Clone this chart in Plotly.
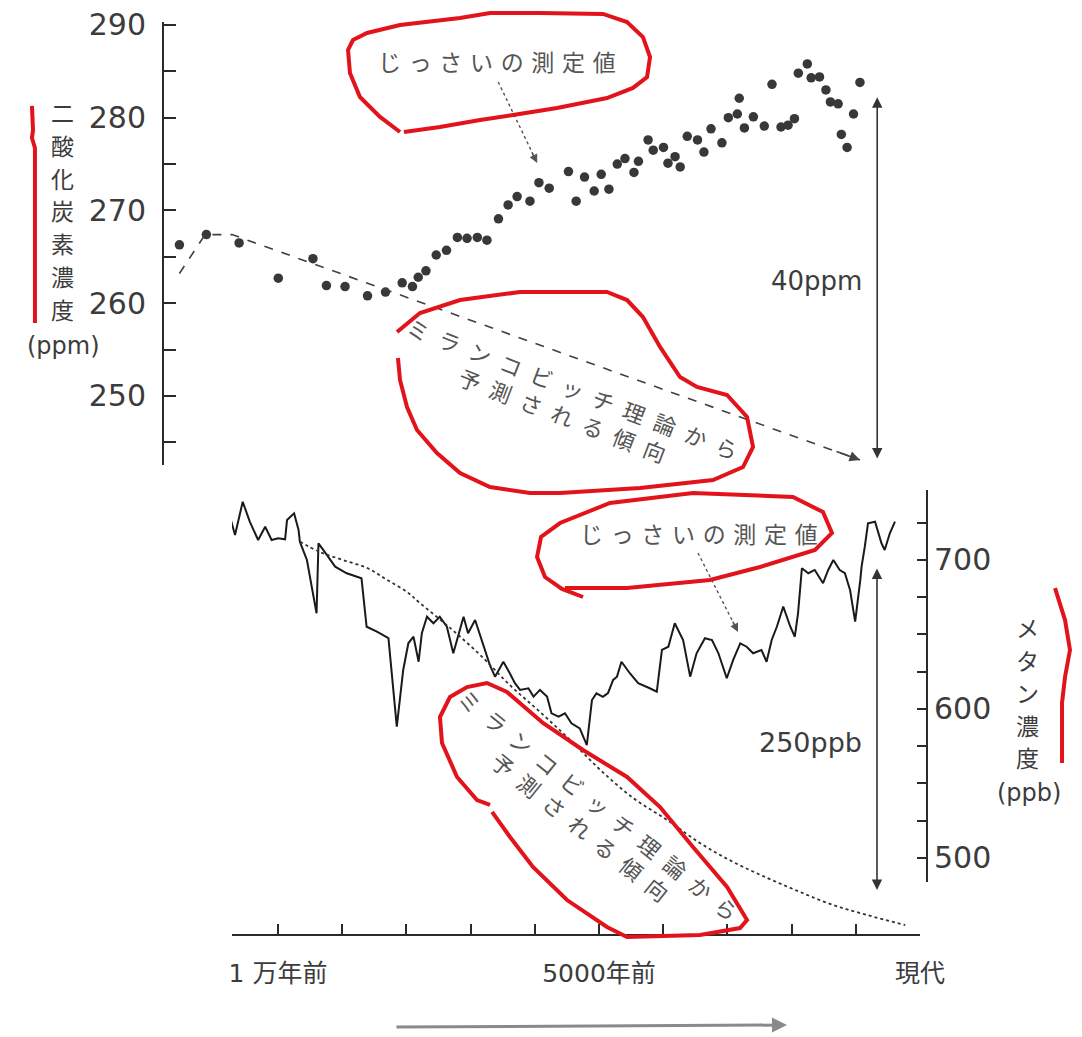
import plotly.graph_objects as go

# The page body adds an 8px margin, so the figure occupies 8..1082 x 8..1037.
OFF = 8
FW, FH = 1082 - OFF, 1037 - OFF

# ---------------- data ----------------
# CO2 measured (years relative to present, ppm)
co2_years = [-10760, -10340, -9830, -9220, -8680, -8470, -8180, -7830, -7550, -7290,
             -7130, -7040, -6920, -6760, -6600, -6430, -6280, -6120, -5970, -5790,
             -5640, -5500, -5300, -5160, -5000, -4700, -4580, -4450, -4300, -4190,
             -4070, -3940, -3820, -3680, -3610, -3460, -3380, -3220, -3150, -3040,
             -2960, -2850, -2690, -2590, -2480, -2310, -2210, -2070, -2040, -1960,
             -1820, -1650, -1530, -1390, -1280, -1180, -1120, -980, -920, -790,
             -690, -620, -500, -450, -360, -260, -160]
co2_ppm = [266.3, 267.4, 266.5, 262.7, 264.8, 261.9, 261.8, 260.8, 261.2, 262.2,
           261.8, 262.8, 263.5, 265.2, 265.7, 267.1, 267.0, 267.1, 266.8, 269.1,
           270.6, 271.5, 271.0, 273.0, 272.4, 274.2, 271.0, 273.6, 272.1, 273.9,
           272.3, 275.0, 275.6, 274.1, 275.3, 277.6, 276.5, 276.8, 275.1, 275.8,
           274.7, 278.0, 277.6, 276.3, 278.8, 277.3, 280.0, 280.4, 282.1, 278.9,
           280.1, 279.1, 283.6, 279.0, 279.2, 279.9, 284.8, 285.8, 284.3, 284.4,
           283.0, 281.7, 281.5, 278.2, 276.8, 280.4, 283.8]

# CO2 trend predicted by Milankovitch theory
trend_years = [-10760, -10360, -9940, -160]
trend_ppm = [263.2, 267.4, 267.4, 243.1]

# CH4 measured (years relative to present, ppb)
ch4_years = [-10770, -10670, -10550, -10440, -10310, -10200, -10100, -10000, -9890, -9860,
             -9750, -9680, -9660, -9550, -9400, -9370, -9240, -9110, -8930, -8770,
             -8700, -8620, -8460, -8280, -8150, -8050, -7970, -7890, -7810, -7760,
             -7680, -7580, -7480, -7370, -7270, -7110, -7040, -6930, -6800, -6700,
             -6620, -6490, -6390, -6310, -6230, -6100, -6020, -5920, -5810, -5740,
             -5630, -5530, -5430, -5300, -5190, -5110, -5040, -4940, -4860, -4780,
             -4720, -4650, -4520, -4390, -4210, -4100, -4020, -3920, -3820, -3690,
             -3580, -3480, -3350, -3240, -3140, -3010, -2910, -2800, -2700, -2600,
             -2470, -2390, -2310, -2230, -2130, -2020, -1950, -1900, -1840, -1740,
             -1640, -1510, -1430, -1350, -1250, -1170, -1090, -1010, -930, -910,
             -860, -810, -700, -600, -550, -470, -390]
ch4_ppb = [732.4, 716.8, 739.1, 725.7, 713.4, 722.3, 713.4, 714.6, 713.9, 726.8,
           731.3, 720.1, 712.3, 700.0, 664.2, 711.2, 703.4, 695.5, 691.1, 688.8,
           687.7, 655.2, 651.9, 647.5, 588.1, 626.2, 644.1, 648.5, 631.7, 650.8,
           661.9, 657.5, 661.9, 655.2, 637.4, 661.9, 650.8, 659.7, 641.8, 629.5,
           621.7, 631.7, 624.0, 617.3, 612.8, 613.9, 608.3, 612.8, 608.3, 597.1,
           594.8, 597.1, 590.4, 587.0, 575.8, 606.0, 610.5, 608.1, 610.7, 619.5,
           621.7, 631.7, 624.0, 617.3, 613.9, 611.6, 639.6, 641.8, 657.5, 646.3,
           621.7, 637.4, 647.5, 646.3, 637.4, 620.6, 632.9, 644.1, 641.8, 637.4,
           639.6, 631.7, 646.3, 655.2, 668.7, 655.2, 648.5, 664.2, 694.4, 691.1,
           693.3, 684.4, 693.3, 700.0, 693.3, 691.1, 679.9, 658.6, 686.6, 695.5,
           708.9, 724.6, 725.7, 711.2, 706.7, 717.9, 725.7]

# CH4 trend predicted by Milankovitch theory
pred_years = [-9660, -9350, -8990, -8610, -8300, -7990, -7790, -7320, -6850, -6390, -5920,
              -5450, -4980, -4470, -3940, -3430, -2910, -2380, -1870, -1360, -830, -230]
pred_ppb = [712.3, 705.4, 700.0, 694.6, 686.6, 678.5, 671.1, 654.4, 636.2, 616.1, 598.0,
            579.2, 559.1, 540.3, 525.5, 510.1, 497.3, 486.6, 477.2, 468.5, 461.8, 455.0]

x_tickvals = [-10000, -9000, -8000, -7000, -6000, -5000, -4000, -3000, -2000, -1000, 0]
x_ticktext = ['1 万年前', '', '', '', '', '5000年前', '', '', '', '', '現代']
co2_tickvals = [245, 250, 255, 260, 265, 270, 275, 280, 285, 290]
co2_ticktext = ['', '250', '', '260', '', '270', '', '280', '', '290']
ch4_tickvals = [500, 525, 550, 575, 600, 625, 650, 675, 700, 725]
ch4_ticktext = ['500', '', '', '', '600', '', '', '', '700', '']

# span arrows (data units)
co2_span = (282.2, 243.1)
ch4_span = (695.3, 478.5)

co2_title = '二酸化炭素濃度'
ch4_title = 'メタン濃度'

# ---------------- styling helpers ----------------
NUM_FONT = "DejaVu Sans, Noto Sans CJK JP, sans-serif"
JP_FONT = "Noto Sans CJK JP, DejaVu Sans, sans-serif"
TXT = '#3c3c3c'
AX = '#2a2a2a'


def px_x(px):
    return (px - OFF) / FW


def px_y(py):
    return 1 - (py - OFF) / FH


def spaced(s, gap='\u2004'):
    return gap.join(list(s))


def red_path(pts):
    return 'M ' + ' L '.join(f'{px_x(x):.4f},{px_y(y):.4f}' for x, y in pts)


def label(x, y, text, font, xanchor='center', **kw):
    d = dict(xref='paper', yref='paper', x=px_x(x), y=px_y(y), showarrow=False,
             text=text, font=font, xanchor=xanchor, yanchor='middle')
    d.update(kw)
    return d


fig = go.Figure()

fig.add_trace(go.Scatter(x=co2_years, y=co2_ppm, xaxis='x2', yaxis='y2', mode='markers',
                         marker=dict(size=9.5, color='#383838'), hoverinfo='skip'))
fig.add_trace(go.Scatter(x=trend_years, y=trend_ppm, xaxis='x2', yaxis='y2', mode='lines',
                         line=dict(color='#404040', width=1.6, dash='dash'), hoverinfo='skip'))
fig.add_trace(go.Scatter(x=ch4_years, y=ch4_ppb, xaxis='x', yaxis='y', mode='lines',
                         line=dict(color='#1a1a1a', width=2), hoverinfo='skip'))
fig.add_trace(go.Scatter(x=pred_years, y=pred_ppb, xaxis='x', yaxis='y', mode='lines',
                         line=dict(color='#333333', width=1.8, dash='dot', shape='spline'),
                         hoverinfo='skip'))

annotations = []
shapes = []
JP = dict(family=JP_FONT, size=23, color='#555')
JP_ROT = dict(family=JP_FONT, size=22, color='#555')
ROT_TEXT = spaced('ミランコビッチ理論から', '\u2002') + '<br>' + spaced('予測される傾向', '\u2002')

# ---- top panel texts ----
annotations.append(label(497, 61, spaced('じっさいの測定値'), JP))
shapes.append(dict(type='line', xref='x2', yref='y2', x0=-5794, y0=283.85, x1=-5187, y1=275.12,
                   line=dict(color='#555', width=1.4, dash='dot')))
annotations.append(dict(xref='x2', yref='y2', x=-5187, y=275.12, ax=-6, ay=-12, text='',
                        showarrow=True, arrowhead=2, arrowsize=1.2, arrowwidth=1.4, arrowcolor='#555'))
annotations.append(dict(xref='x2', yref='y2', x=-160, y=243.1, ax=-25, ay=-9, text='',
                        showarrow=True, arrowhead=2, arrowsize=1.3, arrowwidth=1.6, arrowcolor='#444'))
annotations.append(label(568, 401, ROT_TEXT, JP_ROT, textangle=21))
annotations.append(dict(xref='x2', yref='y2', axref='x2', ayref='y2', x=109, y=co2_span[0],
                        ax=109, ay=co2_span[1], text='', showarrow=True, arrowhead=2,
                        startarrowhead=2, arrowside='end+start', arrowsize=1.3,
                        arrowwidth=1.6, arrowcolor='#333'))
annotations.append(label(864, 281, '40ppm', dict(family=NUM_FONT, size=26, color=TXT),
                         xanchor='right'))

# ---- bottom panel texts ----
annotations.append(label(699, 533, spaced('じっさいの測定値'), JP))
shapes.append(dict(type='line', xref='x', yref='y', x0=-3458, y0=704.7, x1=-2835, y1=651.7,
                   line=dict(color='#555', width=1.4, dash='dot')))
annotations.append(dict(xref='x', yref='y', x=-2835, y=651.7, ax=-6, ay=-12, text='',
                        showarrow=True, arrowhead=2, arrowsize=1.2, arrowwidth=1.4, arrowcolor='#555'))
annotations.append(label(590, 815, ROT_TEXT, JP_ROT, textangle=39))
annotations.append(dict(xref='x', yref='y', axref='x', ayref='y', x=-670, y=ch4_span[1],
                        ax=-670, ay=ch4_span[0], text='', showarrow=True, arrowhead=2,
                        startarrowhead=2, arrowside='end+start', arrowsize=1.3,
                        arrowwidth=1.6, arrowcolor='#333'))
annotations.append(label(864, 742, '250ppb', dict(family=NUM_FONT, size=27, color=TXT),
                         xanchor='right'))

# ---- axis titles (vertical writing, one character per line) ----
TITLE_FONT = dict(family=JP_FONT, size=23, color=TXT)
for i, ch in enumerate(co2_title):
    annotations.append(label(62, 112 + i * 32.8, ch, TITLE_FONT))
annotations.append(label(63, 346, '(ppm)', dict(family=NUM_FONT, size=24, color=TXT)))
for i, ch in enumerate(ch4_title):
    annotations.append(label(1027, 627 + i * 32.5, ch, TITLE_FONT))
annotations.append(label(1029, 793, '(ppb)', dict(family=NUM_FONT, size=24, color=TXT)))

# time direction arrow
annotations.append(dict(xref='paper', yref='paper', x=px_x(787), y=px_y(1025), ax=-392, ay=2,
                        text='', showarrow=True, arrowhead=2, arrowsize=1.0, arrowwidth=3,
                        arrowcolor='#8a8a8a'))

# CH4 axis line (only over the labelled span)
shapes.append(dict(type='line', xref='paper', yref='y', x0=px_x(927), x1=px_x(927),
                   y0=483.9, y1=747.0, line=dict(color=AX, width=2)))

# ---- red hand-drawn marks ----
red_marks = [
    [(32, 106), (33, 130), (32, 138), (35, 148), (35, 323)],
    [(400, 132), (380, 117), (360, 97), (350, 73), (348, 50), (353, 40), (367, 33), (400, 25),
     (460, 18), (490, 13), (540, 13), (603, 14), (627, 22), (643, 37), (650, 57), (647, 77),
     (633, 88), (607, 98), (557, 108), (513, 115), (480, 120), (440, 127), (404, 132)],
    [(398, 358), (400, 380), (407, 407), (417, 430), (437, 453), (460, 473), (490, 487),
     (530, 493), (560, 493), (640, 488), (713, 480), (743, 467), (753, 447), (747, 417),
     (727, 395), (697, 387), (680, 377), (660, 347), (643, 317), (627, 300), (607, 292),
     (520, 292), (460, 300), (420, 313), (397, 332)],
    [(583, 597), (562, 589), (545, 577), (537, 557), (541, 537), (560, 523), (610, 503),
     (693, 493), (793, 497), (823, 512), (832, 533), (815, 550), (760, 567), (710, 580),
     (627, 588), (565, 588)],
    [(492, 812), (510, 837), (533, 867), (567, 900), (607, 927), (627, 937), (700, 935),
     (740, 928), (747, 920), (727, 887), (693, 847), (660, 807), (627, 777), (583, 750),
     (543, 723), (507, 692), (487, 683), (467, 687), (450, 697), (440, 717), (442, 743),
     (457, 777), (477, 800), (490, 805)],
    [(1055, 588), (1065, 620), (1070, 650), (1065, 677), (1062, 703), (1062, 763)],
]
for pts in red_marks:
    shapes.append(dict(type='path', xref='paper', yref='paper', path=red_path(pts),
                       line=dict(color='#e3131b', width=4), layer='above'))

fig.update_layout(
    width=FW, height=FH,
    margin=dict(l=0, r=0, t=0, b=0, autoexpand=False),
    paper_bgcolor='white', plot_bgcolor='white',
    showlegend=False,
    xaxis=dict(domain=[px_x(232), px_x(920)], range=[-10717, 0], anchor='free',
               position=px_y(935), showline=True, linecolor=AX, linewidth=2,
               ticks='inside', ticklen=10, tickwidth=1.5, tickcolor=AX,
               tickvals=x_tickvals, ticktext=x_ticktext, ticklabelstandoff=16,
               ticklabeloverflow='allow',
               tickfont=dict(family=NUM_FONT, size=25, color=TXT),
               showgrid=False, zeroline=False, fixedrange=True),
    yaxis=dict(domain=[px_y(935), px_y(470)], range=[448.3, 760.4], anchor='free',
               position=px_x(927), side='right', showline=False,
               ticks='inside', ticklen=10, tickwidth=1.5, tickcolor=AX,
               tickvals=ch4_tickvals, ticktext=ch4_ticktext, ticklabelstandoff=6,
               ticklabeloverflow='allow',
               tickfont=dict(family=NUM_FONT, size=30, color=TXT),
               showgrid=False, zeroline=False, fixedrange=True),
    xaxis2=dict(domain=[px_x(164), px_x(890)], range=[-11000, 308], anchor='y2',
                visible=False, fixedrange=True),
    yaxis2=dict(domain=[px_y(465), px_y(22)], range=[242.56, 290.32], anchor='free',
                position=px_x(163), side='left', showline=True, linecolor=AX, linewidth=2,
                ticks='inside', ticklen=12, tickwidth=1.5, tickcolor=AX,
                tickvals=co2_tickvals, ticktext=co2_ticktext, ticklabelstandoff=10,
                ticklabeloverflow='allow',
                tickfont=dict(family=NUM_FONT, size=30, color=TXT),
                showgrid=False, zeroline=False, fixedrange=True),
    annotations=annotations,
    shapes=shapes,
)

fig.write_html("out.html")
